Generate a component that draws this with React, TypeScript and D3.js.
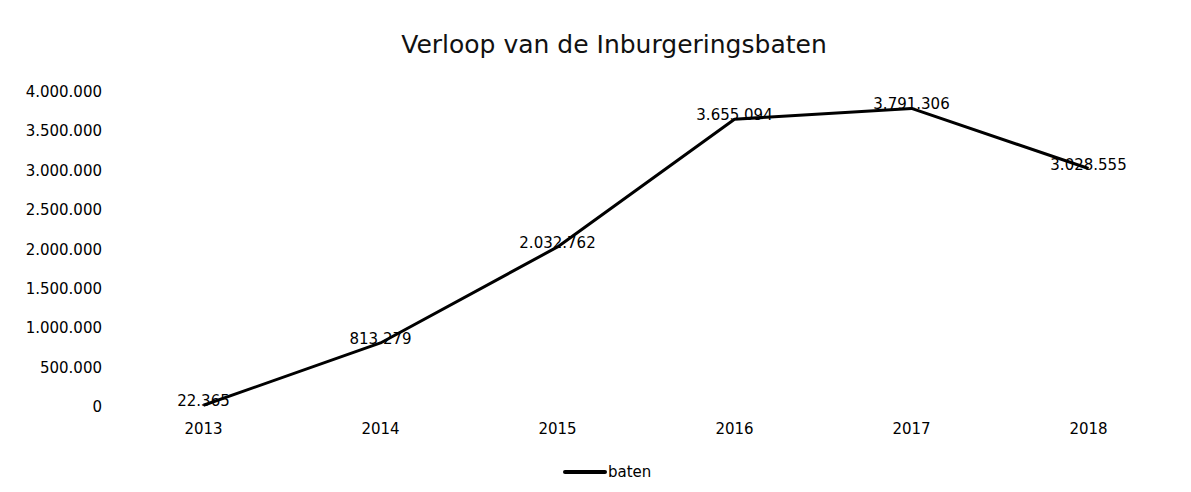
import * as d3 from "d3";
import React, { useEffect, useRef } from "react";

const width = 1191;
const height = 492;
const margin = { top: 92, right: 14, bottom: 85, left: 115 };

// data
const years = ["2013", "2014", "2015", "2016", "2017", "2018"];
const baten = [22365, 813279, 2032762, 3655094, 3791306, 3028555];
const yTicks = [0, 500000, 1000000, 1500000, 2000000, 2500000, 3000000, 3500000, 4000000];
const seriesName = "baten";
const title = "Verloop van de Inburgeringsbaten";

const font = "'DejaVu Sans', sans-serif";
const fmt = (v: number) => d3.format(",")(v).replace(/,/g, ".");

export default function App() {
  const ref = useRef<SVGGElement>(null);

  useEffect(() => {
    const g = d3.select(ref.current);
    g.selectAll("*").remove();

    const x = d3.scaleBand().domain(years).range([margin.left, width - margin.right]);
    const y = d3.scaleLinear().domain([0, 4000000]).range([height - margin.bottom, margin.top]);
    const cx = (d: string) => (x(d) as number) + x.bandwidth() / 2;

    g.append("text")
      .attr("x", 614)
      .attr("y", 44)
      .attr("text-anchor", "middle")
      .attr("dominant-baseline", "central")
      .attr("font-size", 25)
      .attr("fill", "#111")
      .text(title);

    // y tick labels
    g.selectAll(".ytick")
      .data(yTicks)
      .enter()
      .append("text")
      .attr("x", 102)
      .attr("y", (d) => y(d))
      .attr("text-anchor", "end")
      .attr("dominant-baseline", "central")
      .attr("font-size", 15)
      .attr("fill", "#000")
      .text((d) => fmt(d));

    // x labels
    g.selectAll(".xtick")
      .data(years)
      .enter()
      .append("text")
      .attr("x", (d) => cx(d))
      .attr("y", height - margin.bottom + 22)
      .attr("text-anchor", "middle")
      .attr("dominant-baseline", "central")
      .attr("font-size", 15)
      .attr("fill", "#000")
      .text((d) => d);

    const line = d3
      .line<number>()
      .x((d, i) => cx(years[i]))
      .y((d) => y(d));

    g.append("path")
      .datum(baten)
      .attr("d", line)
      .attr("fill", "none")
      .attr("stroke", "#000")
      .attr("stroke-width", 3)
      .attr("stroke-linejoin", "round");

    // data labels
    g.selectAll(".lbl")
      .data(baten)
      .enter()
      .append("text")
      .attr("x", (d, i) => cx(years[i]))
      .attr("y", (d) => y(d) - 4)
      .attr("text-anchor", "middle")
      .attr("dominant-baseline", "central")
      .attr("font-size", 15)
      .attr("fill", "#000")
      .text((d) => fmt(d));

    // legend
    const lg = g.append("g").attr("transform", "translate(565,472)");
    lg.append("line")
      .attr("x1", 0)
      .attr("x2", 40)
      .attr("stroke", "#000")
      .attr("stroke-width", 4)
      .attr("stroke-linecap", "round");
    lg.append("text")
      .attr("x", 43)
      .attr("dominant-baseline", "central")
      .attr("font-size", 15)
      .attr("fill", "#000")
      .text(seriesName);
  }, []);

  return (
    <svg
      width={width}
      height={height}
      style={{ position: "absolute", left: 0, top: 0, background: "#fff", fontFamily: font }}
    >
      <g ref={ref} />
    </svg>
  );
}
